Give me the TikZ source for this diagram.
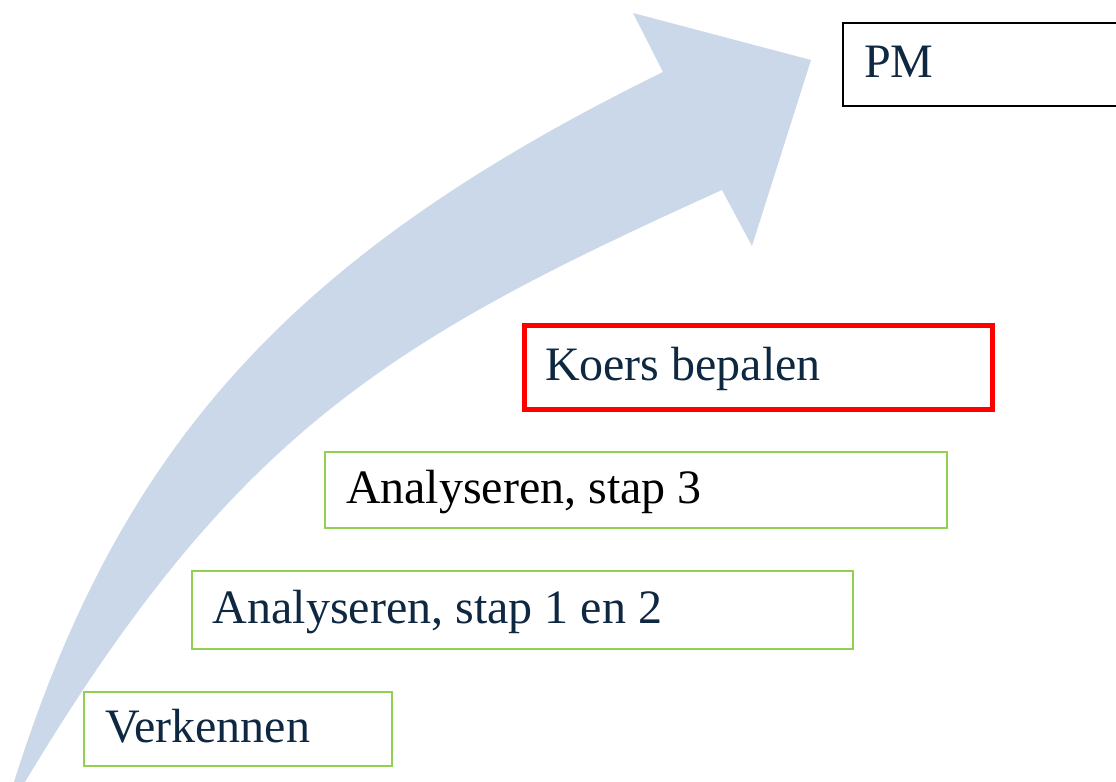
\documentclass[tikz,border=0pt]{standalone}
\usepackage{fontspec}
\setmainfont{Liberation Serif}
\definecolor{arrowblue}{RGB}{203,216,233}
\definecolor{navytext}{HTML}{0E2841}
\definecolor{stepgreen}{HTML}{92D050}
\tikzset{
  stepbox/.style={draw=stepgreen, line width=1pt, anchor=north west, outer sep=0pt,
    inner xsep=10.5pt, inner ysep=0pt, align=flush left, text=navytext,
    text height=1.3em, text depth=0pt, font=\fontsize{24}{28}\selectfont},
}
\begin{document}
\begin{tikzpicture}[x=0.5pt, y=-0.5pt]
    \useasboundingbox (0,0) rectangle (1116,782);
    % curved arrow
    \fill[arrowblue] (14,782) .. controls (120,446) and (290,255) .. (663,72)
        -- (633,13) -- (811,60) -- (752,246) -- (722,190)
        .. controls (390,340) and (235,432) .. (25,782) -- cycle;
    % steps
    \node[stepbox, text width=133pt, minimum height=37pt] (verkennen) at (84,692) {Verkennen};
    \node[stepbox, text width=309.5pt, minimum height=39pt] (stap12) at (192,571) {Analyseren, stap 1 en 2};
    \node[stepbox, text width=290pt, minimum height=38pt, text=black] (stap3) at (325,452) {Analyseren, stap 3};
    \node[stepbox, draw=red, line width=2.5pt, text width=213pt, minimum height=42pt] (koers) at (524,325) {Koers bepalen};
    \node[stepbox, draw=black, text width=124pt, minimum height=41.5pt] (pm) at (843,23) {PM};
\end{tikzpicture}
\end{document}
